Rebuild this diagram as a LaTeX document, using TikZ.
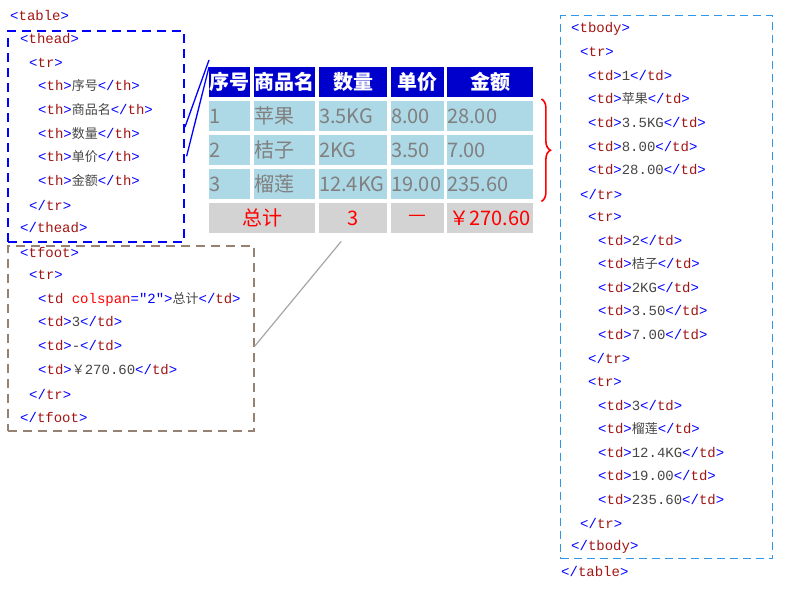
\documentclass[tikz,border=0pt]{standalone}
\usepackage{fontspec}
\setmonofont{Liberation Mono}
\newfontfamily\cjk{Noto Sans CJK SC}
\usetikzlibrary{decorations.pathreplacing}
\definecolor{tagc}{RGB}{163,21,21}
\definecolor{brk}{RGB}{0,0,255}
\definecolor{txt}{RGB}{70,70,70}
\definecolor{hdr}{RGB}{0,0,205}
\definecolor{bodyc}{RGB}{173,216,230}
\definecolor{footc}{RGB}{211,211,211}
\definecolor{tfootc}{RGB}{150,130,115}
\definecolor{tbodyc}{RGB}{50,150,230}
\newcommand{\ot}[1]{\textcolor{brk}{<}\textcolor{tagc}{#1}\textcolor{brk}{>}}
\newcommand{\ct}[1]{\textcolor{brk}{</}\textcolor{tagc}{#1}\textcolor{brk}{>}}
\newcommand{\cn}[1]{\textcolor{txt}{{\cjk\fontsize{13}{14}\selectfont #1}}}
\newcommand{\ctx}[1]{\textcolor{txt}{#1}}
\begin{document}
\begin{tikzpicture}[x=1pt,y=-1pt,
  code/.style={anchor=west,inner sep=0pt,font=\ttfamily\fontsize{14}{16}\selectfont},
  cell/.style={inner sep=0pt,font=\cjk\fontsize{20}{22}\selectfont},
  hcell/.style={cell,fill=hdr,text=white,font=\cjk\bfseries\fontsize{20}{22}\selectfont},
  bcell/.style={cell,fill=bodyc,text=gray,anchor=north west,text width=#1,align=left,minimum height=30pt},
  fcell/.style={cell,fill=footc,text=red,anchor=north west,minimum width=#1,minimum height=30pt}]
\useasboundingbox (0,0) rectangle (800,600);
% boxes
\node[draw=brk,dashed,line width=1.6pt,dash pattern=on 9pt off 6pt,minimum width=176pt,minimum height=211pt,anchor=north west] (theadbox) at (7,30) {};
\node[draw=tfootc,line width=1.6pt,dash pattern=on 9pt off 6pt,minimum width=246pt,minimum height=185pt,anchor=north west] (tfootbox) at (7,245) {};
\node[draw=tbodyc,line width=1.4pt,dash pattern=on 8pt off 5pt,minimum width=212pt,minimum height=543pt,anchor=north west] (tbodybox) at (560,15) {};
% left code
\node[code] (l1) at (10,15) {\ot{table}};
\node[code] (l2) at (20,39) {\ot{thead}};
\node[code] (l3) at (29,63) {\ot{tr}};
\node[code] (l4) at (38,86) {\ot{th}\cn{序号}\ct{th}};
\node[code] (l5) at (38,110) {\ot{th}\cn{商品名}\ct{th}};
\node[code] (l6) at (38,134) {\ot{th}\cn{数量}\ct{th}};
\node[code] (l7) at (38,157) {\ot{th}\cn{单价}\ct{th}};
\node[code] (l8) at (38,181) {\ot{th}\cn{金额}\ct{th}};
\node[code] (l9) at (29,205) {\ct{tr}};
\node[code] (l10) at (20,228) {\ct{thead}};
\node[code] (l11) at (20,252) {\ot{tfoot}};
\node[code] (l12) at (29,275) {\ot{tr}};
\node[code] (l13) at (38,299) {\textcolor{brk}{<}\textcolor{tagc}{td} \textcolor{red}{colspan}\textcolor{brk}{="2"}\textcolor{brk}{>}\cn{总计}\ct{td}};
\node[code] (l14) at (38,322) {\ot{td}\ctx{3}\ct{td}};
\node[code] (l15) at (38,346) {\ot{td}\ctx{-}\ct{td}};
\node[code] (l16) at (38,370) {\ot{td}\cn{￥}\ctx{270.60}\ct{td}};
\node[code] (l17) at (29,394) {\ct{tr}};
\node[code] (l18) at (20,417) {\ct{tfoot}};
% right code
\node[code] (r1) at (571,29) {\ot{tbody}};
\node[code] (r2) at (580,52) {\ot{tr}};
\node[code] (r3) at (588,76) {\ot{td}\ctx{1}\ct{td}};
\node[code] (r4) at (588,99) {\ot{td}\cn{苹果}\ct{td}};
\node[code] (r5) at (588,123) {\ot{td}\ctx{3.5KG}\ct{td}};
\node[code] (r6) at (588,147) {\ot{td}\ctx{8.00}\ct{td}};
\node[code] (r7) at (588,170) {\ot{td}\ctx{28.00}\ct{td}};
\node[code] (r8) at (580,194) {\ct{tr}};
\node[code] (r9) at (588,217) {\ot{tr}};
\node[code] (r10) at (598,241) {\ot{td}\ctx{2}\ct{td}};
\node[code] (r11) at (598,264) {\ot{td}\cn{桔子}\ct{td}};
\node[code] (r12) at (598,288) {\ot{td}\ctx{2KG}\ct{td}};
\node[code] (r13) at (598,311) {\ot{td}\ctx{3.50}\ct{td}};
\node[code] (r14) at (598,335) {\ot{td}\ctx{7.00}\ct{td}};
\node[code] (r15) at (588,358) {\ct{tr}};
\node[code] (r16) at (588,382) {\ot{tr}};
\node[code] (r17) at (598,406) {\ot{td}\ctx{3}\ct{td}};
\node[code] (r18) at (598,429) {\ot{td}\cn{榴莲}\ct{td}};
\node[code] (r19) at (598,453) {\ot{td}\ctx{12.4KG}\ct{td}};
\node[code] (r20) at (598,476) {\ot{td}\ctx{19.00}\ct{td}};
\node[code] (r21) at (598,500) {\ot{td}\ctx{235.60}\ct{td}};
\node[code] (r22) at (580,523) {\ct{tr}};
\node[code] (r23) at (571,547) {\ct{tbody}};
\node[code] (r24) at (561,571) {\ct{table}};
% table header
\node[hcell,anchor=north west,minimum width=41pt,minimum height=30pt] (h1) at (209,67) {序号};
\node[hcell,anchor=north west,minimum width=61pt,minimum height=30pt] (h2) at (254,67) {商品名};
\node[hcell,anchor=north west,minimum width=68pt,minimum height=30pt] (h3) at (319,67) {数量};
\node[hcell,anchor=north west,minimum width=53pt,minimum height=30pt] (h4) at (391,67) {单价};
\node[hcell,anchor=north west,minimum width=86pt,minimum height=30pt] (h5) at (447,67) {金额};
% body rows
\node[bcell=41pt] (a1) at (209,101) {1};
\node[bcell=61pt] (a2) at (254,101) {苹果};
\node[bcell=68pt] (a3) at (319,101) {3.5KG};
\node[bcell=53pt] (a4) at (391,101) {8.00};
\node[bcell=86pt] (a5) at (447,101) {28.00};
\node[bcell=41pt] (b1) at (209,135) {2};
\node[bcell=61pt] (b2) at (254,135) {桔子};
\node[bcell=68pt] (b3) at (319,135) {2KG};
\node[bcell=53pt] (b4) at (391,135) {3.50};
\node[bcell=86pt] (b5) at (447,135) {7.00};
\node[bcell=41pt] (c1) at (209,169) {3};
\node[bcell=61pt] (c2) at (254,169) {榴莲};
\node[bcell=68pt] (c3) at (319,169) {12.4KG};
\node[bcell=53pt] (c4) at (391,169) {19.00};
\node[bcell=86pt] (c5) at (447,169) {235.60};
% footer
\node[fcell=106pt] (f1) at (209,203) {总计};
\node[fcell=68pt] (f3) at (319,203) {3};
\node[fcell=53pt] (f4) at (391,203) {—};
\node[fcell=86pt] (f5) at (447,203) {￥270.60};
% connectors
\draw[brk,line width=1.3pt] (theadbox.east) ++(2,20) coordinate (tA) -- (h1.north west) ++(1,6);
\draw[brk,line width=1.3pt] (185,127) -- ([yshift=7pt]h1.north west);
\draw[gray!70,line width=1.2pt] ([yshift=-8pt]tfootbox.east) -- ([xshift=-12pt,yshift=-8pt]f3.south);
\draw[red,line width=1.6pt,decorate,decoration={brace,amplitude=9pt}] ([xshift=8pt,yshift=2pt]a5.north east) -- ([xshift=8pt,yshift=-2pt]c5.south east);
\end{tikzpicture}
\end{document}
